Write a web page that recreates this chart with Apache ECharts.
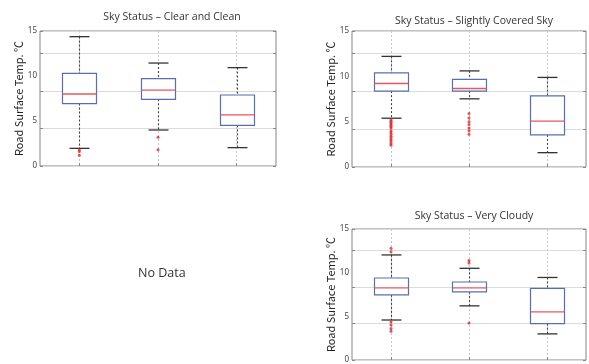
<!DOCTYPE html>
<html>
<head>
	<meta charset="utf-8">
	<title>road surface temp by sky status</title>
	<style>
		html, body, #chart {
			margin: 0;
			padding: 0;
			width: 589px;
			height: 364px;
			background: #fff;
		}
	</style>
	<script src="https://cdn.jsdelivr.net/npm/echarts@6/dist/echarts.min.js"></script>
</head>
<body>
<div id="chart"></div>
<script>

// categories are not labelled in the picture
var categories = ['1', '2', '3'];
var yTickLabels = [0, 5, 10, 15];

// [lower whisker, Q1, median, Q3, upper whisker]
var clearBoxes = [
	[1.96, 6.93, 8.0, 10.3, 14.37],
	[4.0, 7.41, 8.44, 9.7, 11.44],
	[2.04, 4.52, 5.67, 7.89, 10.93]
];
var clearOutliers = [[1.8, 1.6, 1.2], [3.2, 1.8], []];

var slightBoxes = [
	[5.38, 8.37, 9.21, 10.39, 12.2],
	[7.52, 8.37, 8.66, 9.66, 10.6],
	[1.58, 3.54, 5.05, 7.85, 9.88]
];
var slightOutliers = [
	[5.2, 5.05, 4.9, 4.75, 4.6, 4.45, 4.3, 4.0, 3.8, 3.6, 3.4, 3.2, 3.0, 2.8, 2.6, 2.4],
	[5.9, 5.4, 5.0, 4.7, 4.3, 4.0, 3.6],
	[]
];

var cloudyBoxes = [
	[4.58, 7.45, 8.25, 9.39, 12.03],
	[6.2, 7.8, 8.25, 8.93, 10.5],
	[2.99, 4.17, 5.51, 8.19, 9.45]
];
var cloudyOutliers = [[12.8, 12.4, 4.35, 4.0, 3.6, 3.3], [11.4, 11.1, 4.24], []];

var titles = ['Sky Status – Clear and Clean', 'Sky Status – Slightly Covered Sky', 'Sky Status – Very Cloudy'];
var yName = 'Road Surface Temp. ℃';

var panels = [
	{ boxes: clearBoxes, outliers: clearOutliers, grid: { left: 40, top: 31, width: 236, height: 135 }, title: [167, 7] },
	{ boxes: slightBoxes, outliers: slightOutliers, grid: { left: 352, top: 31, width: 234, height: 136 }, title: [469, 11] },
	{ boxes: cloudyBoxes, outliers: cloudyOutliers, grid: { left: 352, top: 229, width: 234, height: 131 }, title: [469, 206] }
];

function renderBox (params, api) {
	var i = api.value(0);
	var lo = api.coord([i, api.value(1)]);
	var q1 = api.coord([i, api.value(2)]);
	var med = api.coord([i, api.value(3)]);
	var q3 = api.coord([i, api.value(4)]);
	var hi = api.coord([i, api.value(5)]);
	var cx = Math.round(lo[0]) + 0.5;
	var bw = 17, cw = 10;
	var dash = { stroke: '#444', lineWidth: 1.1, lineDash: [2, 2] };
	var cap = { stroke: '#333', lineWidth: 1.3 };
	return {
		type: 'group',
		children: [
			{ type: 'line', shape: { x1: cx, y1: hi[1], x2: cx, y2: q3[1] }, style: dash },
			{ type: 'line', shape: { x1: cx, y1: q1[1], x2: cx, y2: lo[1] }, style: dash },
			{ type: 'line', shape: { x1: cx - cw, y1: hi[1], x2: cx + cw, y2: hi[1] }, style: cap },
			{ type: 'line', shape: { x1: cx - cw, y1: lo[1], x2: cx + cw, y2: lo[1] }, style: cap },
			{ type: 'rect', shape: { x: cx - bw, y: q3[1], width: bw * 2, height: q1[1] - q3[1] }, style: { fill: '#fff', stroke: '#5470b0', lineWidth: 1.2 } },
			{ type: 'line', shape: { x1: cx - bw, y1: med[1], x2: cx + bw, y2: med[1] }, style: { stroke: '#e8575a', lineWidth: 1.3 } }
		]
	};
}

var option = {
	animation: false,
	backgroundColor: '#fff',
	title: [],
	grid: [],
	xAxis: [],
	yAxis: [],
	series: [],
	graphic: [{
		type: 'text',
		left: 138,
		top: 267,
		style: { text: 'No Data', fontSize: 12.5, fill: '#333', fontFamily: 'Open Sans' }
	}]
};

panels.forEach(function (p, k) {
	option.title.push({
		text: titles[k],
		left: p.title[0],
		top: p.title[1],
		textAlign: 'center',
		textStyle: { fontSize: 10.5, fontWeight: 'normal', color: '#333', fontFamily: 'Open Sans' }
	});
	option.grid.push(Object.assign({ show: true, borderColor: '#858585', borderWidth: 1 }, p.grid));
	option.xAxis.push({
		type: 'category',
		gridIndex: k,
		data: categories,
		axisLine: { show: false },
		axisLabel: { show: false },
		axisTick: { show: true, inside: true, alignWithLabel: true, length: 3, lineStyle: { color: '#888' } },
		splitLine: { show: true, alignWithLabel: true, lineStyle: { color: '#c8c8c8', type: [2, 2] } }
	});
	var yBase = k * 3;
	option.yAxis.push({
		type: 'value',
		gridIndex: k,
		min: yTickLabels[0],
		max: yTickLabels[yTickLabels.length - 1],
		interval: 5,
		name: yName,
		nameLocation: 'middle',
		nameGap: 15,
		nameTextStyle: { fontSize: 11, color: '#222', fontFamily: 'Noto Sans CJK KR' },
		axisLine: { show: false },
		axisTick: { show: false },
		axisLabel: { fontSize: 8, color: '#444', margin: 3, fontFamily: 'Noto Sans' },
		splitLine: { show: false }
	});
	option.yAxis.push({
		type: 'value',
		gridIndex: k,
		position: 'left',
		min: 0,
		max: 15,
		interval: 4.18,
		axisLine: { show: false },
		axisLabel: { show: false },
		axisTick: { show: true, inside: true, length: 3, lineStyle: { color: '#888' } },
		splitLine: { show: true, lineStyle: { color: '#dcdcdc' } }
	});
	option.yAxis.push({
		type: 'value',
		gridIndex: k,
		position: 'right',
		min: 0,
		max: 15,
		interval: 4.18,
		axisLine: { show: false },
		axisLabel: { show: false },
		axisTick: { show: true, inside: true, length: 3, lineStyle: { color: '#888' } },
		splitLine: { show: false }
	});
	option.series.push({
		type: 'custom',
		xAxisIndex: k,
		yAxisIndex: yBase,
		renderItem: renderBox,
		encode: { x: 0, y: [1, 2, 3, 4, 5] },
		data: p.boxes.map(function (b, i) { return [i].concat(b); }),
		z: 3
	});
	var pts = [];
	p.outliers.forEach(function (list, i) {
		list.forEach(function (v) { pts.push([i, v]); });
	});
	option.series.push({
		type: 'scatter',
		xAxisIndex: k,
		yAxisIndex: yBase,
		symbolSize: 3,
		itemStyle: { color: '#e3262b' },
		data: pts,
		z: 4
	});
});

var chart = echarts.init(document.getElementById('chart'));
chart.setOption(option);

</script>
</body>
</html>
